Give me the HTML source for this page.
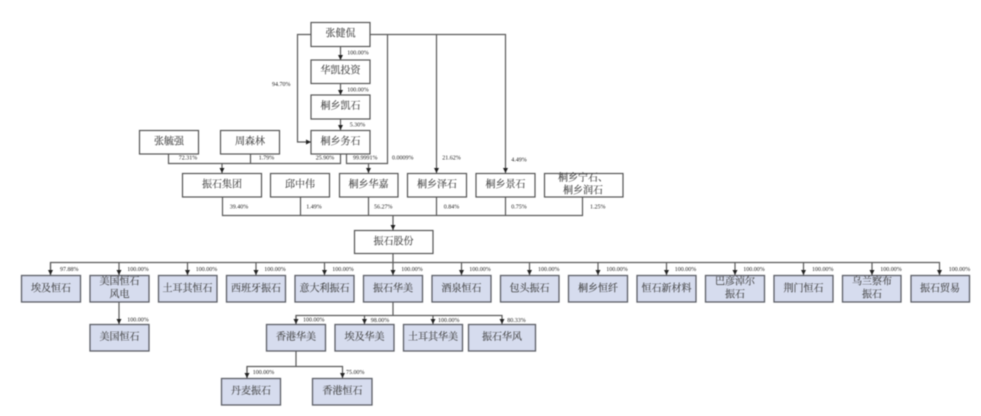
<!DOCTYPE html>
<html><head><meta charset="utf-8">
<style>
html,body{margin:0;padding:0;background:#fff;width:981px;height:416px;overflow:hidden}
svg{display:block;filter:blur(.5px)}
.b{fill:#fff;stroke:#555;stroke-width:1.2}
.f{fill:#d6dcee;stroke:#5c5e66;stroke-width:1.3}
.l{fill:none;stroke:#5a5a5a;stroke-width:1.2}
.t{font-family:"Liberation Serif","Noto Serif CJK SC",serif;font-size:10px;fill:#444;stroke:#444;stroke-width:.12px;text-anchor:middle}
.p{font-family:"Liberation Serif",serif;font-size:6px;fill:#222}
</style></head><body>
<svg width="981" height="416" viewBox="0 0 981 416" xmlns="http://www.w3.org/2000/svg">
<defs><marker id="a" markerUnits="userSpaceOnUse" markerWidth="6" markerHeight="5" refX="5" refY="2.5" orient="auto"><path d="M0 0L5 2.5L0 5Z" fill="#222"/></marker></defs>

<!-- connectors -->
<g class="l">
<path d="M340.5 46V60" marker-end="url(#a)"/>
<path d="M340.5 83V95" marker-end="url(#a)"/>
<path d="M340.5 119V130" marker-end="url(#a)"/>
<path d="M311 34.500H297.500V142H311" marker-end="url(#a)"/>
<path d="M370 34.500H505.500V173" marker-end="url(#a)"/>
<path d="M436.500 34.500V173" marker-end="url(#a)"/>
<path d="M387.500 34.500V163.500H346.500V154"/>
<path d="M168.500 154V163.500H340.500V154"/>
<path d="M250.500 154V163.500"/>
<path d="M222 163.500V173" marker-end="url(#a)"/>
<path d="M368.500 163.500V173" marker-end="url(#a)"/>
<path d="M222.500 197V215.500H582.500V197"/>
<path d="M300.500 197V215.500M368.500 197V215.500M436.500 197V215.500M505.500 197V215.500"/>
<path d="M393 215.500V230" marker-end="url(#a)"/>
<path d="M393 253V275" marker-end="url(#a)"/>
<path d="M50.500 275V262.500H939.500V275" marker-end="url(#a)"/>
<path d="M50.500 262.500V275" marker-end="url(#a)"/>
<path d="M119 262.500V275" marker-end="url(#a)"/>
<path d="M187.500 262.500V275" marker-end="url(#a)"/>
<path d="M256 262.500V275" marker-end="url(#a)"/>
<path d="M324.500 262.500V275" marker-end="url(#a)"/>
<path d="M461.500 262.500V275" marker-end="url(#a)"/>
<path d="M529.500 262.500V275" marker-end="url(#a)"/>
<path d="M598 262.500V275" marker-end="url(#a)"/>
<path d="M666.500 262.500V275" marker-end="url(#a)"/>
<path d="M735 262.500V275" marker-end="url(#a)"/>
<path d="M803.500 262.500V275" marker-end="url(#a)"/>
<path d="M872 262.500V275" marker-end="url(#a)"/>
<path d="M119 302V324" marker-end="url(#a)"/>
<path d="M393 302V315.500"/>
<path d="M296 324V315.500H502V324" marker-end="url(#a)"/>
<path d="M296 315.500V324" marker-end="url(#a)"/>
<path d="M364.500 315.500V324" marker-end="url(#a)"/>
<path d="M433 315.500V324" marker-end="url(#a)"/>
<path d="M296 351V366.500"/>
<path d="M247 378V366.500H342.500V378" marker-end="url(#a)"/>
<path d="M247 366.500V378" marker-end="url(#a)"/>
</g>

<!-- white boxes -->
<rect class="b" x="311" y="22.500" width="59" height="24"/>
<rect class="b" x="311" y="60" width="59" height="23.500"/>
<rect class="b" x="311" y="95" width="59" height="24"/>
<rect class="b" x="311" y="130.500" width="59" height="23.500"/>
<rect class="b" x="139.500" y="130.500" width="59" height="23.500"/>
<rect class="b" x="220.500" y="130.500" width="59" height="23.500"/>
<rect class="b" x="182.500" y="173.500" width="79" height="23.500"/>
<rect class="b" x="270.500" y="173.500" width="59" height="23.500"/>
<rect class="b" x="339.500" y="173.500" width="58.500" height="23.500"/>
<rect class="b" x="407.500" y="173.500" width="59" height="23.500"/>
<rect class="b" x="476" y="173.500" width="59" height="23.500"/>
<rect class="b" x="544.500" y="173.500" width="78.500" height="23.500"/>
<rect class="b" x="354.500" y="230.500" width="78.500" height="23"/>

<!-- filled boxes -->
<g>
<rect class="f" x="21.500" y="275.500" width="59" height="26.500"/>
<rect class="f" x="90" y="275.500" width="59" height="26.500"/>
<rect class="f" x="158.500" y="275.500" width="58.500" height="26.500"/>
<rect class="f" x="226.500" y="275.500" width="59" height="26.500"/>
<rect class="f" x="295" y="275.500" width="59" height="26.500"/>
<rect class="f" x="363.500" y="275.500" width="59" height="26.500"/>
<rect class="f" x="432" y="275.500" width="59" height="26.500"/>
<rect class="f" x="500.500" y="275.500" width="58.500" height="26.500"/>
<rect class="f" x="568.500" y="275.500" width="59" height="26.500"/>
<rect class="f" x="637" y="275.500" width="59" height="26.500"/>
<rect class="f" x="705.500" y="275.500" width="59" height="26.500"/>
<rect class="f" x="774" y="275.500" width="59" height="26.500"/>
<rect class="f" x="842.500" y="275.500" width="58.500" height="26.500"/>
<rect class="f" x="911" y="275.500" width="58.500" height="26.500"/>
<rect class="f" x="90" y="324.500" width="59" height="26.500"/>
<rect class="f" x="266.500" y="324.500" width="59" height="26.500"/>
<rect class="f" x="335" y="324.500" width="59" height="26.500"/>
<rect class="f" x="403.500" y="324.500" width="59" height="26.500"/>
<rect class="f" x="468.500" y="324.500" width="67" height="26.500"/>
<rect class="f" x="221.500" y="378.500" width="59" height="26.500"/>
<rect class="f" x="312.500" y="378.500" width="59.500" height="26.500"/>
</g>

<!-- box text -->
<g class="t">
<text x="340.500" y="36.500">张健侃</text>
<text x="340.500" y="73.500">华凯投资</text>
<text x="340.500" y="109">桐乡凯石</text>
<text x="340.500" y="144.500">桐乡务石</text>
<text x="169" y="144.500">张毓强</text>
<text x="250" y="144.500">周森林</text>
<text x="222" y="187.500">振石集团</text>
<text x="300" y="187.500">邱中伟</text>
<text x="368.500" y="187.500">桐乡华嘉</text>
<text x="437" y="187.500">桐乡泽石</text>
<text x="505.500" y="187.500">桐乡景石</text>
<text x="583" y="181">桐乡宁石、</text>
<text x="583" y="193.500">桐乡润石</text>
<text x="393.500" y="244.500">振石股份</text>
<text x="51" y="291.500">埃及恒石</text>
<text x="119.500" y="284.500">美国恒石</text>
<text x="119.500" y="297.500">风电</text>
<text x="187.500" y="291.500">土耳其恒石</text>
<text x="256" y="291.500">西班牙振石</text>
<text x="324.500" y="291.500">意大利振石</text>
<text x="393" y="291.500">振石华美</text>
<text x="461.500" y="291.500">酒泉恒石</text>
<text x="529.500" y="291.500">包头振石</text>
<text x="598" y="291.500">桐乡恒纤</text>
<text x="666.500" y="291.500">恒石新材料</text>
<text x="735" y="284.500">巴彦淖尔</text>
<text x="735" y="297.500">振石</text>
<text x="803.500" y="291.500">荆门恒石</text>
<text x="872" y="284.500">乌兰察布</text>
<text x="872" y="297.500">振石</text>
<text x="940" y="291.500">振石贸易</text>
<text x="119.500" y="340">美国恒石</text>
<text x="296" y="340">香港华美</text>
<text x="364.500" y="340">埃及华美</text>
<text x="433" y="340">土耳其华美</text>
<text x="502" y="340">振石华风</text>
<text x="251" y="394">丹麦振石</text>
<text x="342.500" y="394">香港恒石</text>
</g>

<!-- percentage labels -->
<g class="p">
<text x="347.300" y="54.700">100.00%</text>
<text x="347.300" y="91.700">100.00%</text>
<text x="349.700" y="126.300">5.30%</text>
<text x="272" y="86">94.70%</text>
<text x="178.700" y="159.700">72.31%</text>
<text x="258.700" y="159.700">1.79%</text>
<text x="315.700" y="159.700">25.90%</text>
<text x="353" y="159.700">99.9991%</text>
<text x="392" y="159.700">0.0009%</text>
<text x="442.300" y="159.700">21.62%</text>
<text x="511.300" y="161.300">4.49%</text>
<text x="229.700" y="208.700">39.40%</text>
<text x="306.300" y="208.700">1.49%</text>
<text x="374" y="208.700">56.27%</text>
<text x="443.700" y="208.700">0.84%</text>
<text x="511.300" y="208.700">0.75%</text>
<text x="590" y="208.700">1.25%</text>
<text x="60" y="271">97.88%</text>
<text x="127.300" y="271">100.00%</text>
<text x="195.700" y="271">100.00%</text>
<text x="264.300" y="271">100.00%</text>
<text x="332.300" y="271">100.00%</text>
<text x="401.300" y="271">100.00%</text>
<text x="469.300" y="271">100.00%</text>
<text x="538" y="271">100.00%</text>
<text x="606.300" y="271">100.00%</text>
<text x="674.700" y="271">100.00%</text>
<text x="743.300" y="271">100.00%</text>
<text x="812" y="271">100.00%</text>
<text x="880.300" y="271">100.00%</text>
<text x="948.700" y="271">100.00%</text>
<text x="127.300" y="321.700">100.00%</text>
<text x="303" y="321.700">100.00%</text>
<text x="370.700" y="322">98.00%</text>
<text x="438" y="322">100.00%</text>
<text x="507.300" y="322">80.33%</text>
<text x="252.700" y="374">100.00%</text>
<text x="346" y="374">75.00%</text>
</g>
</svg>
</body></html>
